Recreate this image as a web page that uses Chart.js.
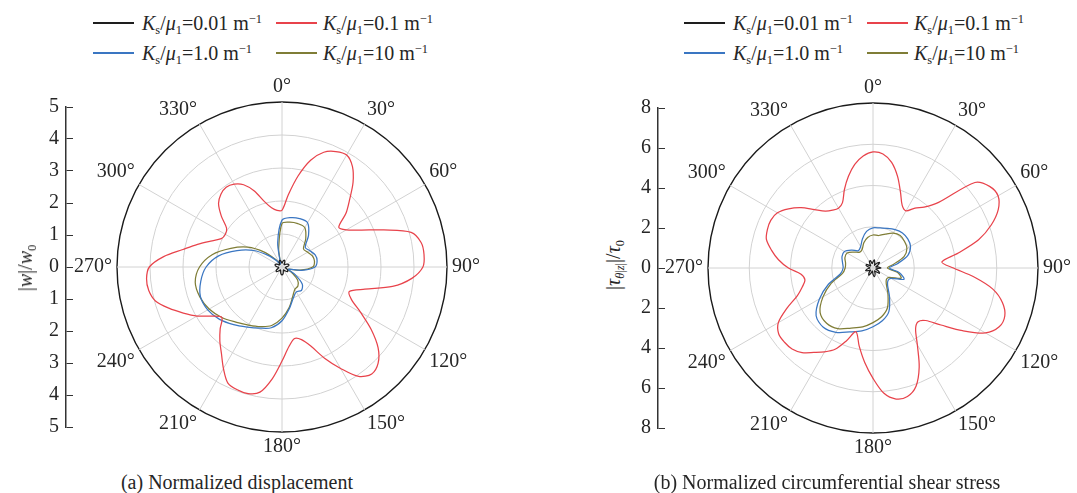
<!DOCTYPE html>
<html>
<head>
<meta charset="utf-8">
<script src="https://cdn.jsdelivr.net/npm/chart.js@4.4.1/dist/chart.umd.min.js"></script>
<style>
html, body { margin: 0; padding: 0; background: #fff; overflow: hidden; }
#page { position: relative; width: 1077px; height: 493px; font-family: 'Liberation Serif', 'Times New Roman', serif; color: #262626; }
canvas { position: absolute; }
.ln { position: absolute; width: 41px; height: 1.5px; }
.tx { position: absolute; font-size: 20px; line-height: 20px; white-space: nowrap; }
sub, sup { font-size: 0.62em; line-height: 0; position: relative; vertical-align: baseline; }
sub { top: 0.3em; }
sup { top: -0.6em; }
.ytitle { position: absolute; font-size: 20px; line-height: 20px; white-space: nowrap; transform: translate(-50%, -50%) rotate(-90deg); }
.cap { position: absolute; font-size: 20px; line-height: 20px; white-space: nowrap; transform: translateX(-50%); }
</style>
</head>
<body>
<div id="page">
  <canvas id="axisA" width="37" height="358" style="left:36px;top:88px"></canvas>
  <canvas id="polarA" width="440" height="380" style="left:57px;top:77px"></canvas>
  <canvas id="axisB" width="37" height="358" style="left:628px;top:89px"></canvas>
  <canvas id="polarB" width="420" height="380" style="left:658px;top:78px"></canvas>

  <div class="ytitle" style="left:25px;top:268px">|<i>w</i>|/<i>w</i><sub>0</sub></div>
  <div class="ytitle" style="left:613px;top:265px">|<i>τ</i><sub><i>θ</i>|<i>z</i>|</sub>|/<i>τ</i><sub>0</sub></div>

  <div class="cap" style="left:237px;top:472px">(a) Normalized displacement</div>
  <div class="cap" style="left:827px;top:472px">(b) Normalized circumferential shear stress</div>
  <div id="legends"></div>
</div>

<script>
// angles of the polar samples (degrees, clockwise from top)
const angles = [0, 5, 10, 15, 20, 25, 30, 35, 40, 45, 50, 55, 60, 65, 70, 75, 80, 85,
  90, 95, 100, 105, 110, 115, 120, 125, 130, 135, 140, 145, 150, 155, 160, 165, 170, 175,
  180, 185, 190, 195, 200, 205, 210, 215, 220, 225, 230, 235, 240, 245, 250, 255, 260, 265,
  270, 275, 280, 285, 290, 295, 300, 305, 310, 315, 320, 325, 330, 335, 340, 345, 350, 355];

const seriesNames = ['0.01', '0.1', '1.0', '10'];
const seriesColors = ['#1e1e1e', '#e8434b', '#3a76c2', '#7f7d36'];

// (a) normalized displacement |w|/w0
// Ks/mu1 = 0.1, every 5 degrees
const dispRed = [1.72, 2.2, 2.8, 3.35, 3.7, 3.86, 3.92, 3.72, 3.35, 2.9, 2.53, 2.1,
  2.25, 2.65, 3.28, 4.05, 4.28, 4.32, 4.27, 3.95, 3.4, 2.6, 2.17, 2.32,
  2.75, 3.3, 3.8, 4.12, 4.23, 4.05, 3.55, 3.05, 2.55, 2.28, 2.2, 2.42,
  2.85, 3.4, 3.85, 3.97, 3.96, 3.88, 3.55, 3.2, 2.93, 2.65, 2.38, 2.6,
  2.97, 3.3, 3.65, 3.97, 4.1, 4.12, 4.02, 3.6, 3.05, 2.65, 2.3, 2.03,
  1.98, 2.05, 2.4, 2.72, 2.88, 2.95, 2.9, 2.75, 2.45, 2.05, 1.82, 1.72];
// the other three, every 10 degrees
const dispBlack = [0.12, 0.18, 0.22, 0.17, 0.1, 0.12, 0.18, 0.22, 0.2, 0.12, 0.1, 0.15,
  0.2, 0.22, 0.16, 0.1, 0.12, 0.2, 0.24, 0.2, 0.12, 0.1, 0.16, 0.22,
  0.2, 0.13, 0.1, 0.14, 0.2, 0.22, 0.17, 0.1, 0.11, 0.17, 0.21, 0.18];
const dispBlue = [1.42, 1.52, 1.56, 1.55, 1.25, 0.92, 0.98, 1.07, 1.08, 1.0, 0.6, 0.2,
  0.45, 0.8, 0.92, 0.87, 1.0, 1.28, 1.63, 1.87, 1.97, 2.1, 2.28, 2.47,
  2.6, 2.63, 2.5, 2.3, 1.95, 1.45, 1.0, 0.55, 0.25, 0.1, 0.15, 0.75];
const dispOlive = [1.32, 1.38, 1.4, 1.38, 1.12, 0.85, 0.9, 0.98, 1.0, 0.93, 0.55, 0.2,
  0.35, 0.62, 0.75, 0.78, 0.95, 1.25, 1.55, 1.8, 1.92, 2.03, 2.18, 2.38,
  2.55, 2.65, 2.67, 2.5, 2.15, 1.65, 1.2, 0.7, 0.3, 0.12, 0.15, 0.58];

// (b) normalized circumferential shear stress
const shearRed = [5.63, 5.55, 5.2, 4.6, 3.9, 3.35, 3.2, 3.55, 3.85, 4.5, 6.45, 6.9,
  7.0, 6.7, 6.1, 5.3, 4.2, 3.35, 3.9, 4.9, 5.9, 6.5, 6.8, 6.75,
  6.3, 5.3, 4.3, 3.6, 3.4, 3.6, 4.3, 5.3, 6.1, 6.45, 6.45, 6.1,
  5.35, 4.6, 3.85, 3.2, 3.75, 4.35, 4.7, 5.0, 5.35, 5.55, 5.6, 5.58,
  5.3, 4.6, 3.9, 3.55, 3.35, 3.5, 4.1, 4.6, 5.0, 5.35, 5.45, 5.47,
  5.35, 5.0, 4.55, 4.0, 3.6, 3.42, 3.35, 3.5, 4.05, 4.6, 5.1, 5.45];
const shearBlack = [0.3, 0.4, 0.25, 0.15, 0.3, 0.42, 0.26, 0.14, 0.28, 0.38, 0.2, 0.15,
  0.32, 0.4, 0.24, 0.16, 0.3, 0.42, 0.3, 0.15, 0.25, 0.4, 0.3, 0.16,
  0.25, 0.38, 0.28, 0.15, 0.2, 0.35, 0.36, 0.16, 0.2, 0.35, 0.38, 0.22];
const shearBlue = [1.95, 1.97, 2.05, 2.15, 2.22, 2.2, 2.1, 1.8, 1.2, 0.8, 1.3, 1.6,
  1.0, 0.95, 1.1, 1.6, 2.25, 2.6, 2.85, 3.1, 3.3, 3.6, 3.75, 3.6,
  3.0, 2.3, 1.6, 1.45, 1.5, 1.6, 1.6, 1.35, 1.1, 1.2, 1.5, 1.8];
const shearOlive = [1.6, 1.6, 1.75, 1.95, 2.05, 2.0, 1.9, 1.6, 1.0, 0.7, 1.2, 1.45,
  0.9, 0.85, 1.0, 1.45, 2.05, 2.4, 2.65, 2.9, 3.1, 3.4, 3.5, 3.35,
  2.8, 2.15, 1.5, 1.35, 1.35, 1.45, 1.45, 1.2, 1.0, 1.05, 1.3, 1.5];

const dispTicks = [-5, -4, -3, -2, -1, 0, 1, 2, 3, 4, 5];
const shearTicks = [-8, -6, -4, -2, 0, 2, 4, 6, 8];

const serif = "'Liberation Serif', 'Times New Roman', serif";
const angleLabels = angles.map(a => a + '°');
// 10-degree samples sit on every other 5-degree slot
const every10 = arr => arr.flatMap(v => [v, null]);

function polarChart(id, rMax, step, series) {
  return new Chart(document.getElementById(id), {
    type: 'radar',
    data: {
      labels: angleLabels,
      datasets: series.map((d, i) => ({
        label: 'Ks/μ1=' + seriesNames[i] + ' m-1',
        data: d,
        borderColor: seriesColors[i],
        borderWidth: 1.25,
        fill: false,
        spanGaps: true,
        tension: 0.3,
        pointRadius: 0
      }))
    },
    options: {
      responsive: false,
      animation: false,
      plugins: { legend: { display: false }, tooltip: { enabled: false } },
      scales: {
        r: {
          min: 0,
          max: rMax,
          ticks: { display: false, stepSize: step },
          grid: {
            circular: true,
            color: c => (c.tick && c.tick.value === rMax) ? '#1a1a1a' : '#d2d2d2',
            lineWidth: c => (c.tick && c.tick.value === rMax) ? 1.4 : 1
          },
          angleLines: {
            color: c => c.index % 6 === 0 ? '#d2d2d2' : 'rgba(0,0,0,0)',
            lineWidth: 1
          },
          pointLabels: {
            padding: 5,
            color: '#262626',
            font: { family: serif, size: 20, lineHeight: 1 },
            callback: (label, i) => i % 6 === 0 ? label : ''
          }
        }
      }
    }
  });
}

function axisChart(id, ticks) {
  const lo = ticks[0], hi = ticks[ticks.length - 1];
  return new Chart(document.getElementById(id), {
    type: 'scatter',
    data: { datasets: [] },
    options: {
      responsive: false,
      animation: false,
      layout: { padding: { top: 14, bottom: 14, left: 0, right: 0 } },
      plugins: { legend: { display: false }, tooltip: { enabled: false } },
      scales: {
        x: { display: false },
        y: {
          min: lo,
          max: hi,
          afterFit: s => { s.width = 30; },
          afterBuildTicks: s => { s.ticks = ticks.map(v => ({ value: v })); },
          ticks: {
            padding: 7,
            color: '#262626',
            font: { family: serif, size: 20 },
            callback: v => Math.abs(v)
          },
          grid: { drawTicks: false, color: '#333', lineWidth: 1 },
          border: { color: '#333', width: 1.5 }
        }
      }
    }
  });
}

polarChart('polarA', 5, 1, [every10(dispBlack), dispRed, every10(dispBlue), every10(dispOlive)]);
polarChart('polarB', 8, 2, [every10(shearBlack), shearRed, every10(shearBlue), every10(shearOlive)]);
axisChart('axisA', dispTicks);
axisChart('axisB', shearTicks);

// legends (HTML, for italics and sub/superscripts)
const legendSpots = [
  { x: [93, 276], tx: [142, 323] },
  { x: [684, 867], tx: [733, 914] }
];
const rowsY = [22, 52];
const order = [[0, 1], [2, 3]];
let html = '';
legendSpots.forEach(spot => {
  order.forEach((row, r) => {
    row.forEach((si, c) => {
      html += '<div class="ln" style="left:' + spot.x[c] + 'px;top:' + rowsY[r] + 'px;background-color:' + seriesColors[si] + '"></div>';
      html += '<div class="tx" style="left:' + spot.tx[c] + 'px;top:' + (rowsY[r] - 9) + 'px"><i>K</i><sub>s</sub>/<i>μ</i><sub>1</sub>=' +
        seriesNames[si] + ' m<sup>−1</sup></div>';
    });
  });
});
document.getElementById('legends').innerHTML = html;
</script>
</body>
</html>
